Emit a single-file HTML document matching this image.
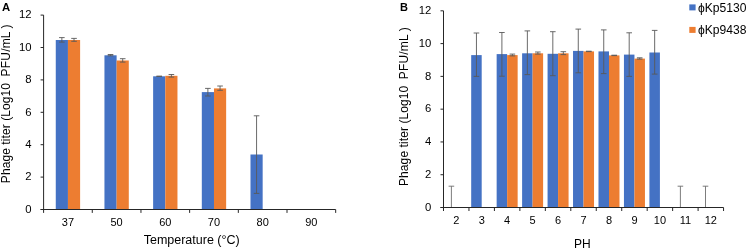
<!DOCTYPE html>
<html><head><meta charset="utf-8"><title>Phage titer charts</title>
<style>
html,body{margin:0;padding:0;background:#fff;}
svg{display:block;font-family:"Liberation Sans",Arial,sans-serif;fill:#000;}
</style></head>
<body>
<svg width="748" height="251" viewBox="0 0 748 251">
<rect x="0" y="0" width="748" height="251" fill="#ffffff"/>
<rect x="55.77" y="40.00" width="12.17" height="169.50" fill="#4472C4"/>
<line x1="61.86" y1="37.60" x2="61.86" y2="42.10" stroke="#595959" stroke-width="0.9"/>
<line x1="59.06" y1="37.60" x2="64.66" y2="37.60" stroke="#595959" stroke-width="0.9"/>
<line x1="59.06" y1="42.10" x2="64.66" y2="42.10" stroke="#595959" stroke-width="0.9"/>
<rect x="67.94" y="40.00" width="12.17" height="169.50" fill="#ED7D31"/>
<line x1="74.03" y1="38.40" x2="74.03" y2="41.30" stroke="#595959" stroke-width="0.9"/>
<line x1="71.23" y1="38.40" x2="76.83" y2="38.40" stroke="#595959" stroke-width="0.9"/>
<line x1="71.23" y1="41.30" x2="76.83" y2="41.30" stroke="#595959" stroke-width="0.9"/>
<rect x="104.45" y="55.30" width="12.17" height="154.20" fill="#4472C4"/>
<line x1="110.53" y1="54.50" x2="110.53" y2="55.80" stroke="#595959" stroke-width="0.9"/>
<line x1="107.73" y1="54.50" x2="113.33" y2="54.50" stroke="#595959" stroke-width="0.9"/>
<line x1="107.73" y1="55.80" x2="113.33" y2="55.80" stroke="#595959" stroke-width="0.9"/>
<rect x="116.62" y="60.50" width="12.17" height="149.00" fill="#ED7D31"/>
<line x1="122.70" y1="58.70" x2="122.70" y2="62.10" stroke="#595959" stroke-width="0.9"/>
<line x1="119.91" y1="58.70" x2="125.50" y2="58.70" stroke="#595959" stroke-width="0.9"/>
<line x1="119.91" y1="62.10" x2="125.50" y2="62.10" stroke="#595959" stroke-width="0.9"/>
<rect x="153.13" y="76.30" width="12.17" height="133.20" fill="#4472C4"/>
<line x1="159.22" y1="76.10" x2="159.22" y2="76.50" stroke="#595959" stroke-width="0.9"/>
<line x1="156.41" y1="76.10" x2="162.02" y2="76.10" stroke="#595959" stroke-width="0.9"/>
<line x1="156.41" y1="76.50" x2="162.02" y2="76.50" stroke="#595959" stroke-width="0.9"/>
<rect x="165.30" y="75.80" width="12.17" height="133.70" fill="#ED7D31"/>
<line x1="171.39" y1="74.50" x2="171.39" y2="77.10" stroke="#595959" stroke-width="0.9"/>
<line x1="168.59" y1="74.50" x2="174.19" y2="74.50" stroke="#595959" stroke-width="0.9"/>
<line x1="168.59" y1="77.10" x2="174.19" y2="77.10" stroke="#595959" stroke-width="0.9"/>
<rect x="201.81" y="92.10" width="12.17" height="117.40" fill="#4472C4"/>
<line x1="207.89" y1="88.40" x2="207.89" y2="96.00" stroke="#595959" stroke-width="0.9"/>
<line x1="205.09" y1="88.40" x2="210.69" y2="88.40" stroke="#595959" stroke-width="0.9"/>
<line x1="205.09" y1="96.00" x2="210.69" y2="96.00" stroke="#595959" stroke-width="0.9"/>
<rect x="213.98" y="88.40" width="12.17" height="121.10" fill="#ED7D31"/>
<line x1="220.06" y1="86.00" x2="220.06" y2="90.30" stroke="#595959" stroke-width="0.9"/>
<line x1="217.26" y1="86.00" x2="222.87" y2="86.00" stroke="#595959" stroke-width="0.9"/>
<line x1="217.26" y1="90.30" x2="222.87" y2="90.30" stroke="#595959" stroke-width="0.9"/>
<rect x="250.49" y="154.50" width="12.17" height="55.00" fill="#4472C4"/>
<line x1="256.57" y1="115.80" x2="256.57" y2="193.40" stroke="#595959" stroke-width="0.9"/>
<line x1="253.77" y1="115.80" x2="259.38" y2="115.80" stroke="#595959" stroke-width="0.9"/>
<line x1="253.77" y1="193.40" x2="259.38" y2="193.40" stroke="#595959" stroke-width="0.9"/>
<line x1="43.60" y1="15.10" x2="43.60" y2="210.00" stroke="#262626" stroke-width="1"/>
<line x1="40.60" y1="209.50" x2="335.68" y2="209.50" stroke="#262626" stroke-width="1"/>
<line x1="40.60" y1="209.50" x2="43.60" y2="209.50" stroke="#262626" stroke-width="1"/>
<text x="31.60" y="212.70" font-size="11.3" text-anchor="end" font-weight="normal" >0</text>
<line x1="40.60" y1="177.10" x2="43.60" y2="177.10" stroke="#262626" stroke-width="1"/>
<text x="31.60" y="180.30" font-size="11.3" text-anchor="end" font-weight="normal" >2</text>
<line x1="40.60" y1="144.70" x2="43.60" y2="144.70" stroke="#262626" stroke-width="1"/>
<text x="31.60" y="147.90" font-size="11.3" text-anchor="end" font-weight="normal" >4</text>
<line x1="40.60" y1="112.30" x2="43.60" y2="112.30" stroke="#262626" stroke-width="1"/>
<text x="31.60" y="115.50" font-size="11.3" text-anchor="end" font-weight="normal" >6</text>
<line x1="40.60" y1="79.90" x2="43.60" y2="79.90" stroke="#262626" stroke-width="1"/>
<text x="31.60" y="83.10" font-size="11.3" text-anchor="end" font-weight="normal" >8</text>
<line x1="40.60" y1="47.50" x2="43.60" y2="47.50" stroke="#262626" stroke-width="1"/>
<text x="31.60" y="50.70" font-size="11.3" text-anchor="end" font-weight="normal" >10</text>
<line x1="40.60" y1="15.10" x2="43.60" y2="15.10" stroke="#262626" stroke-width="1"/>
<text x="31.60" y="18.30" font-size="11.3" text-anchor="end" font-weight="normal" >12</text>
<line x1="43.60" y1="209.50" x2="43.60" y2="212.90" stroke="#262626" stroke-width="1"/>
<line x1="92.28" y1="209.50" x2="92.28" y2="212.90" stroke="#262626" stroke-width="1"/>
<line x1="140.96" y1="209.50" x2="140.96" y2="212.90" stroke="#262626" stroke-width="1"/>
<line x1="189.64" y1="209.50" x2="189.64" y2="212.90" stroke="#262626" stroke-width="1"/>
<line x1="238.32" y1="209.50" x2="238.32" y2="212.90" stroke="#262626" stroke-width="1"/>
<line x1="287.00" y1="209.50" x2="287.00" y2="212.90" stroke="#262626" stroke-width="1"/>
<line x1="335.68" y1="209.50" x2="335.68" y2="212.90" stroke="#262626" stroke-width="1"/>
<text x="67.94" y="226.30" font-size="11" text-anchor="middle" font-weight="normal" >37</text>
<text x="116.62" y="226.30" font-size="11" text-anchor="middle" font-weight="normal" >50</text>
<text x="165.30" y="226.30" font-size="11" text-anchor="middle" font-weight="normal" >60</text>
<text x="213.98" y="226.30" font-size="11" text-anchor="middle" font-weight="normal" >70</text>
<text x="262.66" y="226.30" font-size="11" text-anchor="middle" font-weight="normal" >80</text>
<text x="311.34" y="226.30" font-size="11" text-anchor="middle" font-weight="normal" >90</text>
<text x="191.70" y="243.80" font-size="12.5" text-anchor="middle" font-weight="normal" >Temperature (°C)</text>
<text x="2.10" y="11.10" font-size="11.3" text-anchor="start" font-weight="bold" >A</text>
<g transform="translate(9.60,0.00) rotate(-90)" font-size="12"><text x="-183.2" y="0" textLength="100.2" lengthAdjust="spacing">Phage titer (Log10</text><text x="-76.4" y="0" textLength="44.9" lengthAdjust="spacing">PFU/mL</text><text x="-28.4" y="0">)</text></g>
<line x1="451.40" y1="186.20" x2="451.40" y2="207.50" stroke="#6e6e6e" stroke-width="0.9"/>
<line x1="448.60" y1="186.20" x2="454.20" y2="186.20" stroke="#6e6e6e" stroke-width="0.9"/>
<line x1="448.60" y1="207.50" x2="454.20" y2="207.50" stroke="#6e6e6e" stroke-width="0.9"/>
<rect x="471.19" y="55.10" width="10.50" height="152.40" fill="#4472C4"/>
<line x1="476.44" y1="33.00" x2="476.44" y2="76.40" stroke="#595959" stroke-width="0.9"/>
<line x1="473.64" y1="33.00" x2="479.24" y2="33.00" stroke="#595959" stroke-width="0.9"/>
<line x1="473.64" y1="76.40" x2="479.24" y2="76.40" stroke="#595959" stroke-width="0.9"/>
<rect x="496.65" y="54.10" width="10.50" height="153.40" fill="#4472C4"/>
<rect x="507.15" y="55.10" width="10.50" height="152.40" fill="#ED7D31"/>
<line x1="501.90" y1="32.50" x2="501.90" y2="76.20" stroke="#595959" stroke-width="0.9"/>
<line x1="499.10" y1="32.50" x2="504.70" y2="32.50" stroke="#595959" stroke-width="0.9"/>
<line x1="499.10" y1="76.20" x2="504.70" y2="76.20" stroke="#595959" stroke-width="0.9"/>
<line x1="512.40" y1="54.10" x2="512.40" y2="55.90" stroke="#595959" stroke-width="0.9"/>
<line x1="509.60" y1="54.10" x2="515.20" y2="54.10" stroke="#595959" stroke-width="0.9"/>
<line x1="509.60" y1="55.90" x2="515.20" y2="55.90" stroke="#595959" stroke-width="0.9"/>
<rect x="522.11" y="53.30" width="10.50" height="154.20" fill="#4472C4"/>
<rect x="532.61" y="53.30" width="10.50" height="154.20" fill="#ED7D31"/>
<line x1="527.36" y1="30.90" x2="527.36" y2="74.60" stroke="#595959" stroke-width="0.9"/>
<line x1="524.56" y1="30.90" x2="530.16" y2="30.90" stroke="#595959" stroke-width="0.9"/>
<line x1="524.56" y1="74.60" x2="530.16" y2="74.60" stroke="#595959" stroke-width="0.9"/>
<line x1="537.86" y1="52.00" x2="537.86" y2="54.10" stroke="#595959" stroke-width="0.9"/>
<line x1="535.06" y1="52.00" x2="540.66" y2="52.00" stroke="#595959" stroke-width="0.9"/>
<line x1="535.06" y1="54.10" x2="540.66" y2="54.10" stroke="#595959" stroke-width="0.9"/>
<rect x="547.57" y="53.80" width="10.50" height="153.70" fill="#4472C4"/>
<rect x="558.07" y="53.30" width="10.50" height="154.20" fill="#ED7D31"/>
<line x1="552.82" y1="31.70" x2="552.82" y2="75.70" stroke="#595959" stroke-width="0.9"/>
<line x1="550.02" y1="31.70" x2="555.62" y2="31.70" stroke="#595959" stroke-width="0.9"/>
<line x1="550.02" y1="75.70" x2="555.62" y2="75.70" stroke="#595959" stroke-width="0.9"/>
<line x1="563.32" y1="51.70" x2="563.32" y2="54.60" stroke="#595959" stroke-width="0.9"/>
<line x1="560.52" y1="51.70" x2="566.12" y2="51.70" stroke="#595959" stroke-width="0.9"/>
<line x1="560.52" y1="54.60" x2="566.12" y2="54.60" stroke="#595959" stroke-width="0.9"/>
<rect x="573.03" y="50.90" width="10.50" height="156.60" fill="#4472C4"/>
<rect x="583.53" y="51.40" width="10.50" height="156.10" fill="#ED7D31"/>
<line x1="578.28" y1="29.10" x2="578.28" y2="72.80" stroke="#595959" stroke-width="0.9"/>
<line x1="575.48" y1="29.10" x2="581.08" y2="29.10" stroke="#595959" stroke-width="0.9"/>
<line x1="575.48" y1="72.80" x2="581.08" y2="72.80" stroke="#595959" stroke-width="0.9"/>
<line x1="588.78" y1="51.20" x2="588.78" y2="51.60" stroke="#595959" stroke-width="0.9"/>
<line x1="585.98" y1="51.20" x2="591.58" y2="51.20" stroke="#595959" stroke-width="0.9"/>
<line x1="585.98" y1="51.60" x2="591.58" y2="51.60" stroke="#595959" stroke-width="0.9"/>
<rect x="598.49" y="51.40" width="10.50" height="156.10" fill="#4472C4"/>
<rect x="608.99" y="55.40" width="10.50" height="152.10" fill="#ED7D31"/>
<line x1="603.74" y1="29.90" x2="603.74" y2="73.60" stroke="#595959" stroke-width="0.9"/>
<line x1="600.94" y1="29.90" x2="606.54" y2="29.90" stroke="#595959" stroke-width="0.9"/>
<line x1="600.94" y1="73.60" x2="606.54" y2="73.60" stroke="#595959" stroke-width="0.9"/>
<line x1="614.24" y1="55.20" x2="614.24" y2="55.60" stroke="#595959" stroke-width="0.9"/>
<line x1="611.44" y1="55.20" x2="617.04" y2="55.20" stroke="#595959" stroke-width="0.9"/>
<line x1="611.44" y1="55.60" x2="617.04" y2="55.60" stroke="#595959" stroke-width="0.9"/>
<rect x="623.95" y="54.60" width="10.50" height="152.90" fill="#4472C4"/>
<rect x="634.45" y="58.60" width="10.50" height="148.90" fill="#ED7D31"/>
<line x1="629.20" y1="32.80" x2="629.20" y2="76.40" stroke="#595959" stroke-width="0.9"/>
<line x1="626.40" y1="32.80" x2="632.00" y2="32.80" stroke="#595959" stroke-width="0.9"/>
<line x1="626.40" y1="76.40" x2="632.00" y2="76.40" stroke="#595959" stroke-width="0.9"/>
<line x1="639.70" y1="57.80" x2="639.70" y2="59.10" stroke="#595959" stroke-width="0.9"/>
<line x1="636.90" y1="57.80" x2="642.50" y2="57.80" stroke="#595959" stroke-width="0.9"/>
<line x1="636.90" y1="59.10" x2="642.50" y2="59.10" stroke="#595959" stroke-width="0.9"/>
<rect x="649.41" y="52.50" width="10.50" height="155.00" fill="#4472C4"/>
<line x1="654.66" y1="30.40" x2="654.66" y2="74.10" stroke="#595959" stroke-width="0.9"/>
<line x1="651.86" y1="30.40" x2="657.46" y2="30.40" stroke="#595959" stroke-width="0.9"/>
<line x1="651.86" y1="74.10" x2="657.46" y2="74.10" stroke="#595959" stroke-width="0.9"/>
<line x1="680.40" y1="186.20" x2="680.40" y2="207.50" stroke="#6e6e6e" stroke-width="0.9"/>
<line x1="677.60" y1="186.20" x2="683.20" y2="186.20" stroke="#6e6e6e" stroke-width="0.9"/>
<line x1="677.60" y1="207.50" x2="683.20" y2="207.50" stroke="#6e6e6e" stroke-width="0.9"/>
<line x1="705.50" y1="186.20" x2="705.50" y2="207.50" stroke="#6e6e6e" stroke-width="0.9"/>
<line x1="702.70" y1="186.20" x2="708.30" y2="186.20" stroke="#6e6e6e" stroke-width="0.9"/>
<line x1="702.70" y1="207.50" x2="708.30" y2="207.50" stroke="#6e6e6e" stroke-width="0.9"/>
<line x1="443.50" y1="10.82" x2="443.50" y2="208.00" stroke="#262626" stroke-width="1"/>
<line x1="440.50" y1="207.50" x2="723.56" y2="207.50" stroke="#262626" stroke-width="1"/>
<line x1="440.50" y1="207.50" x2="443.50" y2="207.50" stroke="#262626" stroke-width="1"/>
<text x="431.40" y="210.70" font-size="11.3" text-anchor="end" font-weight="normal" >0</text>
<line x1="440.50" y1="174.72" x2="443.50" y2="174.72" stroke="#262626" stroke-width="1"/>
<text x="431.40" y="177.92" font-size="11.3" text-anchor="end" font-weight="normal" >2</text>
<line x1="440.50" y1="141.94" x2="443.50" y2="141.94" stroke="#262626" stroke-width="1"/>
<text x="431.40" y="145.14" font-size="11.3" text-anchor="end" font-weight="normal" >4</text>
<line x1="440.50" y1="109.16" x2="443.50" y2="109.16" stroke="#262626" stroke-width="1"/>
<text x="431.40" y="112.36" font-size="11.3" text-anchor="end" font-weight="normal" >6</text>
<line x1="440.50" y1="76.38" x2="443.50" y2="76.38" stroke="#262626" stroke-width="1"/>
<text x="431.40" y="79.58" font-size="11.3" text-anchor="end" font-weight="normal" >8</text>
<line x1="440.50" y1="43.60" x2="443.50" y2="43.60" stroke="#262626" stroke-width="1"/>
<text x="431.40" y="46.80" font-size="11.3" text-anchor="end" font-weight="normal" >10</text>
<line x1="440.50" y1="10.82" x2="443.50" y2="10.82" stroke="#262626" stroke-width="1"/>
<text x="431.40" y="14.02" font-size="11.3" text-anchor="end" font-weight="normal" >12</text>
<line x1="443.50" y1="207.50" x2="443.50" y2="211.00" stroke="#262626" stroke-width="1"/>
<line x1="468.96" y1="207.50" x2="468.96" y2="211.00" stroke="#262626" stroke-width="1"/>
<line x1="494.42" y1="207.50" x2="494.42" y2="211.00" stroke="#262626" stroke-width="1"/>
<line x1="519.88" y1="207.50" x2="519.88" y2="211.00" stroke="#262626" stroke-width="1"/>
<line x1="545.34" y1="207.50" x2="545.34" y2="211.00" stroke="#262626" stroke-width="1"/>
<line x1="570.80" y1="207.50" x2="570.80" y2="211.00" stroke="#262626" stroke-width="1"/>
<line x1="596.26" y1="207.50" x2="596.26" y2="211.00" stroke="#262626" stroke-width="1"/>
<line x1="621.72" y1="207.50" x2="621.72" y2="211.00" stroke="#262626" stroke-width="1"/>
<line x1="647.18" y1="207.50" x2="647.18" y2="211.00" stroke="#262626" stroke-width="1"/>
<line x1="672.64" y1="207.50" x2="672.64" y2="211.00" stroke="#262626" stroke-width="1"/>
<line x1="698.10" y1="207.50" x2="698.10" y2="211.00" stroke="#262626" stroke-width="1"/>
<line x1="723.56" y1="207.50" x2="723.56" y2="211.00" stroke="#262626" stroke-width="1"/>
<text x="456.23" y="224.10" font-size="11" text-anchor="middle" font-weight="normal" >2</text>
<text x="481.69" y="224.10" font-size="11" text-anchor="middle" font-weight="normal" >3</text>
<text x="507.15" y="224.10" font-size="11" text-anchor="middle" font-weight="normal" >4</text>
<text x="532.61" y="224.10" font-size="11" text-anchor="middle" font-weight="normal" >5</text>
<text x="558.07" y="224.10" font-size="11" text-anchor="middle" font-weight="normal" >6</text>
<text x="583.53" y="224.10" font-size="11" text-anchor="middle" font-weight="normal" >7</text>
<text x="608.99" y="224.10" font-size="11" text-anchor="middle" font-weight="normal" >8</text>
<text x="634.45" y="224.10" font-size="11" text-anchor="middle" font-weight="normal" >9</text>
<text x="659.91" y="224.10" font-size="11" text-anchor="middle" font-weight="normal" >10</text>
<text x="685.37" y="224.10" font-size="11" text-anchor="middle" font-weight="normal" >11</text>
<text x="710.83" y="224.10" font-size="11" text-anchor="middle" font-weight="normal" >12</text>
<text x="582.40" y="248.20" font-size="12" text-anchor="middle" font-weight="normal" >PH</text>
<text x="399.90" y="11.10" font-size="11" text-anchor="start" font-weight="bold" >B</text>
<g transform="translate(408.00,2.80) rotate(-90)" font-size="12"><text x="-183.2" y="0" textLength="100.2" lengthAdjust="spacing">Phage titer (Log10</text><text x="-76.4" y="0" textLength="44.9" lengthAdjust="spacing">PFU/mL</text><text x="-28.4" y="0">)</text></g>
<rect x="689.30" y="4.40" width="6.30" height="6.00" fill="#4472C4"/>
<text x="697.90" y="12.00" font-size="12.1" text-anchor="start" font-weight="normal" >ϕKp5130</text>
<rect x="689.30" y="26.90" width="6.30" height="6.00" fill="#ED7D31"/>
<text x="697.90" y="34.20" font-size="12.1" text-anchor="start" font-weight="normal" >ϕKp9438</text>
</svg>
</body></html>
